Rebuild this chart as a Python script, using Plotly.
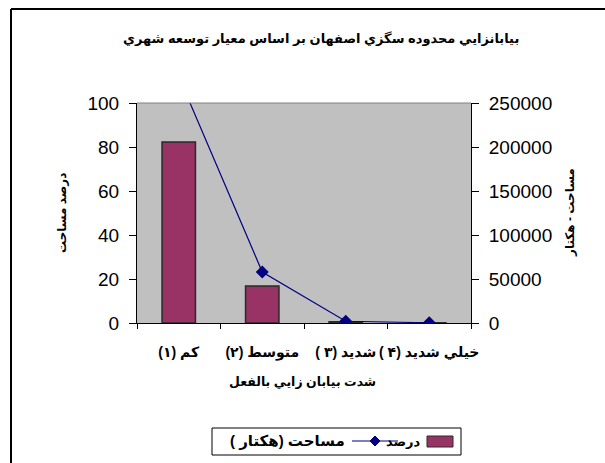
import plotly.graph_objects as go

W, H = 605, 463
categories = ["كم (۱)", "متوسط (۲)", "شديد (۳ )", "خيلي شديد (۴ )"]
percent = [82.3, 16.8, 0.6, 0.1]
area_ha = [280000, 58000, 2000, 300]
left_ticks = [0, 20, 40, 60, 80, 100]
right_ticks = [0, 50000, 100000, 150000, 200000, 250000]

title_text = "بيابانزايي محدوده سگزي اصفهان بر اساس معيار توسعه شهري"
x_title = "شدت بيابان زايي بالفعل"
y_title = "درصد مساحت"
y2_title = "مساحت - هکتار"
legend_bar = "درصد"
legend_line = "مساحت (هکتار )"

FONT = "Liberation Sans, Arial, DejaVu Sans, sans-serif"
BAR_COLOR = "#993366"
LINE_COLOR = "#000080"


def rtl(s):
    # embed as right-to-left text so words and brackets are ordered properly
    return "\u202b" + s + "\u202c"


def px(x):
    return x / W


def py(y):
    return 1 - y / H


fig = go.Figure()
fig.add_trace(go.Bar(
    x=categories, y=percent, name=legend_bar, width=0.4,
    marker=dict(color=BAR_COLOR, line=dict(color="#2a2a2a", width=1.5)),
    showlegend=False,
))
fig.add_trace(go.Scatter(
    x=categories, y=area_ha, name=legend_line, yaxis="y2",
    mode="lines+markers",
    line=dict(color=LINE_COLOR, width=1.2),
    marker=dict(symbol="diamond", size=10, color=LINE_COLOR),
    showlegend=False,
))

shapes = []
annotations = []

# outer chart frame (cropped)
shapes.append(dict(type="line", xref="paper", yref="paper", x0=px(11), y0=py(9), x1=px(606), y1=py(9),
                   line=dict(color="#000000", width=2)))
shapes.append(dict(type="line", xref="paper", yref="paper", x0=px(11), y0=py(9), x1=px(11), y1=py(464),
                   line=dict(color="#000000", width=2)))
# top border of plot area
shapes.append(dict(type="line", xref="x domain", yref="y domain", x0=0, y0=1, x1=1, y1=1,
                   line=dict(color="#808080", width=1)))

# legend box
shapes.append(dict(type="rect", xref="paper", yref="paper", x0=px(212), y0=py(428), x1=px(461), y1=py(455),
                   line=dict(color="#000000", width=1), fillcolor="white"))
shapes.append(dict(type="rect", xref="paper", yref="paper", x0=px(427), y0=py(436), x1=px(453), y1=py(447),
                   line=dict(color="#2a2a2a", width=1), fillcolor=BAR_COLOR))
shapes.append(dict(type="line", xref="paper", yref="paper", x0=px(352), y0=py(441), x1=px(398), y1=py(441),
                   line=dict(color=LINE_COLOR, width=1.2)))
shapes.append(dict(type="path", xref="paper", yref="paper",
                   path=f"M {px(375)},{py(436)} L {px(380)},{py(441)} L {px(375)},{py(446)} L {px(370)},{py(441)} Z",
                   fillcolor=LINE_COLOR, line=dict(color=LINE_COLOR, width=1)))
annotations.append(dict(text=f"<b>{rtl(legend_bar)}</b>", xref="paper", yref="paper", x=px(423), y=py(441),
                        xanchor="right", yanchor="middle", showarrow=False,
                        font=dict(family=FONT, size=13, color="black")))
annotations.append(dict(text=f"<b>{rtl(legend_line)}</b>", xref="paper", yref="paper", x=px(347), y=py(441),
                        xanchor="right", yanchor="middle", showarrow=False,
                        font=dict(family=FONT, size=15, color="black")))

# titles
annotations.append(dict(text=f"<b>{rtl(title_text)}</b>", xref="paper", yref="paper", x=px(321), y=py(38),
                        xanchor="center", yanchor="middle", showarrow=False,
                        font=dict(family=FONT, size=13, color="black")))
annotations.append(dict(text=f"<b>{rtl(x_title)}</b>", xref="paper", yref="paper", x=px(302), y=py(382),
                        xanchor="center", yanchor="middle", showarrow=False,
                        font=dict(family=FONT, size=12.5, color="black")))
annotations.append(dict(text=f"<b>{rtl(y_title)}</b>", xref="paper", yref="paper", x=px(62), y=py(213),
                        xanchor="center", yanchor="middle", showarrow=False, textangle=-90,
                        font=dict(family=FONT, size=12, color="black")))
annotations.append(dict(text=f"<b>{rtl(y2_title)}</b>", xref="paper", yref="paper", x=px(570), y=py(213),
                        xanchor="center", yanchor="middle", showarrow=False, textangle=-90,
                        font=dict(family=FONT, size=12, color="black")))

fig.update_layout(
    width=W, height=H,
    margin=dict(l=0, r=0, t=0, b=0, autoexpand=False),
    paper_bgcolor="white",
    plot_bgcolor="#C0C0C0",
    showlegend=False,
    font=dict(family=FONT, color="black"),
    bargap=0.6,
    xaxis=dict(
        domain=[px(137), px(471)], automargin=False,
        type="category", categoryorder="array", categoryarray=categories,
        tickmode="array", tickvals=categories,
        ticktext=[f"<b>{rtl(c)}</b>" for c in categories],
        showline=True, linecolor="black", linewidth=1,
        ticks="outside", tickson="boundaries", ticklen=5, tickcolor="black",
        tickfont=dict(family=FONT, size=14, color="black"),
        tickangle=0, ticklabelstandoff=16,
        showgrid=False, zeroline=False,
    ),
    yaxis=dict(
        domain=[py(323), py(103)], automargin=False,
        range=[0, 100], tickvals=left_ticks,
        showline=True, linecolor="black", linewidth=1,
        ticks="outside", ticklen=7, tickcolor="black",
        tickfont=dict(family=FONT, size=19, color="black"),
        ticklabelstandoff=6,
        showgrid=False, zeroline=False,
    ),
    yaxis2=dict(
        overlaying="y", side="right", anchor="x", automargin=False,
        range=[0, 250000], tickvals=right_ticks, tickformat="d",
        showline=True, linecolor="black", linewidth=1,
        ticks="outside", ticklen=7, tickcolor="black",
        tickfont=dict(family=FONT, size=19, color="black"),
        ticklabelstandoff=6,
        showgrid=False, zeroline=False,
    ),
    shapes=shapes,
    annotations=annotations,
)

fig.write_html("out.html")
